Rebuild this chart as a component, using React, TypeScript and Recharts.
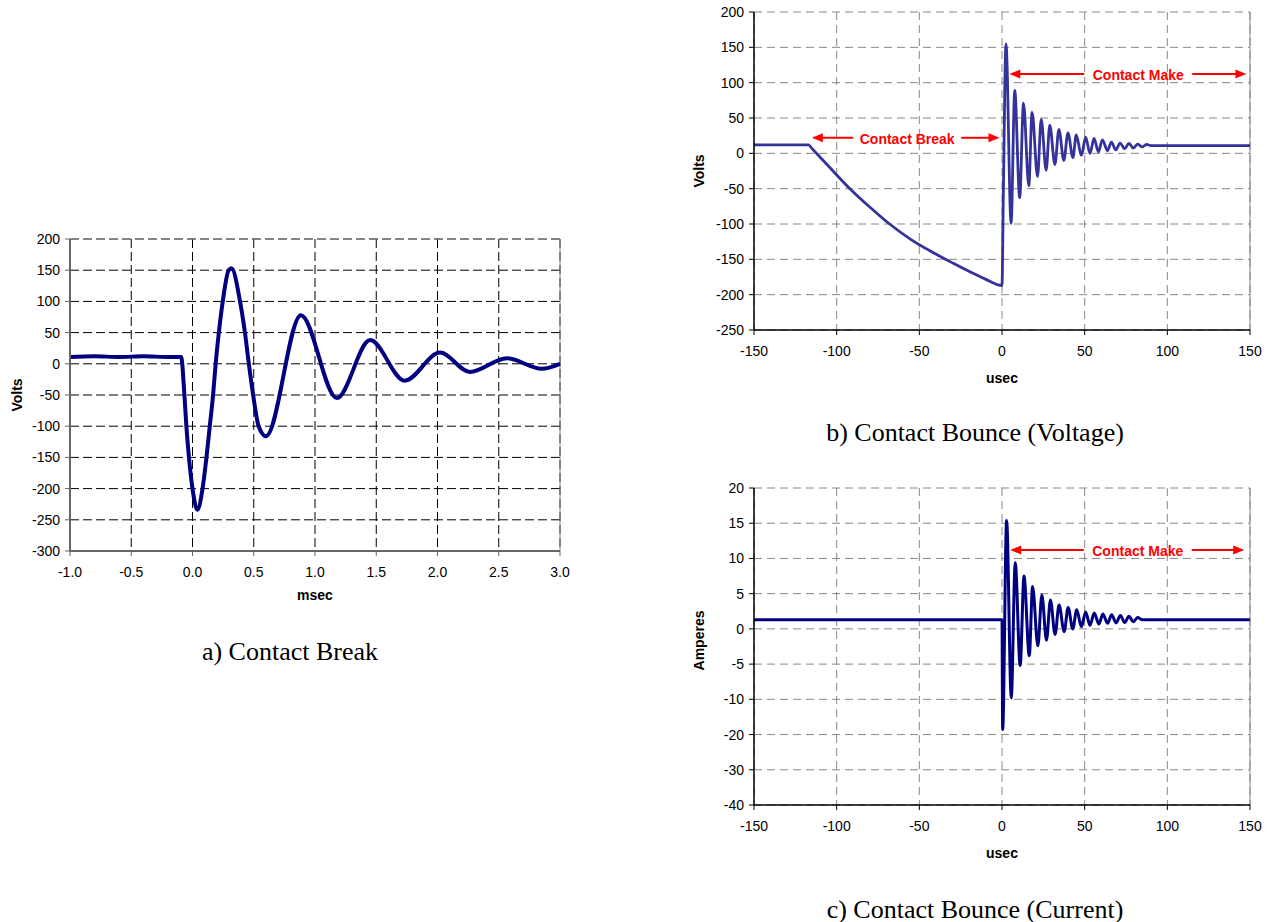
import React from 'react';
import { LineChart, Line, XAxis, YAxis, CartesianGrid, ReferenceLine } from 'recharts';

// a) contact break, msec / volts
const breakMsec = [
  -1.0, -0.8, -0.6, -0.4, -0.2, -0.093, -0.066, -0.05, -0.029, 0.0, 0.04, 0.082, 0.114, 0.141,
  0.168, 0.189, 0.215, 0.247, 0.295, 0.318, 0.388, 0.428, 0.46, 0.495, 0.54, 0.6, 0.885, 1.178,
  1.45, 1.732, 2.02, 2.265, 2.566, 2.85, 3.0,
];
const breakVolts = [
  11, 12, 11, 12, 11, 11, -50, -100, -150, -200, -234, -200, -150, -100,
  -50, 0, 50, 100, 150, 153, 100, 50, 0, -50, -100, -116, 78, -55,
  38, -27, 18, -13, 9, -8, 0,
];
const breakXTicks = [-1, -0.5, 0, 0.5, 1, 1.5, 2, 2.5, 3];
const breakYTicks = [-300, -250, -200, -150, -100, -50, 0, 50, 100, 150, 200];

// b) contact bounce voltage, usec / volts
const bounceUsec = [
  -150, -135, -117, -115, -105, -92, -80, -68, -55, -42, -30, -20, -10, 0, 0.8, 2.4, 5.5, 7.7,
  10.7, 13.0, 16.2, 18.2, 21.5, 23.7, 26.7, 28.9, 32.0, 34.4, 37.4, 39.9, 42.9, 44.9, 48.0, 50.6,
  53.2, 55.7, 58.3, 60.7, 63.8, 66.2, 68.8, 71.5, 74.1, 76.8, 79.4, 82.1, 84.7, 87.4, 90, 110,
  130, 150,
];
const bounceVolts = [
  12, 12, 12, 7, -18, -50, -76, -100, -122, -140, -155, -167, -178, -187, -60, 155, -99, 89,
  -63, 71, -46, 58, -33, 48, -24, 40, -16, 34, -10, 29, -6, 26, -3, 23,
  0, 21, 2, 19, 4, 16, 5, 14.5, 6.5, 14, 7.5, 13, 9, 12.5, 11, 11,
  11, 11,
];
const bounceXTicks = [-150, -100, -50, 0, 50, 100, 150];
const bounceVoltTicks = [-250, -200, -150, -100, -50, 0, 50, 100, 150, 200];

// c) contact bounce current, usec / amperes (axis labels are uneven below -10)
const currentUsec = [
  -150, -120, -90, -60, -30, -10, 0, 0.4, 2.8, 5.6, 8.0, 11.0, 13.3, 16.5, 18.5, 21.7, 24.1,
  26.9, 29.3, 32.1, 34.5, 37.6, 40.0, 42.8, 45.2, 48.0, 50.6, 53.2, 55.8, 58.6, 61.0, 63.9, 66.3,
  69.0, 71.6, 74.2, 76.8, 79.4, 82, 85, 90, 110, 130, 150,
];
const currentAmps = [
  1.3, 1.3, 1.3, 1.3, 1.3, 1.3, 1.3, -14.3, 15.4, -9.8, 9.4, -5.2, 7.5, -3.8, 6.0, -2.4, 4.8,
  -1.6, 4.1, -0.8, 3.4, -0.4, 3.05, 0.0, 2.7, 0.3, 2.4, 0.5, 2.25, 0.7, 2.1, 0.8, 2.0,
  0.85, 1.9, 0.9, 1.8, 1.0, 1.6, 1.3, 1.3, 1.3, 1.3, 1.3,
];
const ampTicks = [-25, -20, -15, -10, -5, 0, 5, 10, 15, 20];
const ampTickLabels = ['-40', '-30', '-20', '-10', '-5', '0', '5', '10', '15', '20'];

const breakData = breakMsec.map((t, i) => ({ t, v: breakVolts[i] }));
const bounceData = bounceUsec.map((t, i) => ({ t, v: bounceVolts[i] }));
const currentData = currentUsec.map((t, i) => ({ t, v: currentAmps[i] }));

const SANS = '"Liberation Sans", Arial, sans-serif';
const SERIF = '"Liberation Serif", "Times New Roman", serif';
const RED = '#ff0000';
const tickStyle = { fill: '#000', fontSize: 14, fontFamily: SANS };

function YTitle(props: any) {
  const { viewBox, text, dx, shift = 0 } = props;
  const cx = viewBox.x + dx;
  const cy = viewBox.y + viewBox.height / 2 + shift;
  return (
    <text x={cx} y={cy} transform={`rotate(-90 ${cx} ${cy})`} textAnchor="middle"
      dominantBaseline="central" fontFamily={SANS} fontWeight="bold" fontSize={14} fill="#000">
      {text}
    </text>
  );
}

function XTitle(props: any) {
  const { viewBox, text, dy } = props;
  return (
    <text x={viewBox.x + viewBox.width / 2} y={viewBox.y + dy} textAnchor="middle"
      dominantBaseline="central" fontFamily={SANS} fontWeight="bold" fontSize={14} fill="#000">
      {text}
    </text>
  );
}

function RedArrow(props: any) {
  const { x1, x2, y1, text, at } = props;
  const left = Math.min(x1, x2);
  const right = Math.max(x1, x2);
  const cx = left + (right - left) * at;
  const gap = 54;
  return (
    <g>
      <line x1={left + 8} y1={y1} x2={cx - gap} y2={y1} stroke={RED} strokeWidth={2} />
      <line x1={cx + gap} y1={y1} x2={right - 8} y2={y1} stroke={RED} strokeWidth={2} />
      <polygon points={`${left},${y1} ${left + 11},${y1 - 4.5} ${left + 11},${y1 + 4.5}`} fill={RED} />
      <polygon points={`${right},${y1} ${right - 11},${y1 - 4.5} ${right - 11},${y1 + 4.5}`} fill={RED} />
      <text x={cx} y={y1 + 1} textAnchor="middle" dominantBaseline="central" fill={RED}
        fontFamily={SANS} fontWeight="bold" fontSize={14}>
        {text}
      </text>
    </g>
  );
}

const Caption = ({ left, top, children }: any) => (
  <div style={{ position: 'absolute', left: left - 200, top, width: 400, textAlign: 'center',
    fontFamily: SERIF, fontSize: 26, lineHeight: '26px', color: '#000' }}>
    {children}
  </div>
);

export default function App() {
  return (
    <div style={{ position: 'absolute', left: 0, top: 0, width: 1274, height: 922, background: '#fff' }}>
      {/* a) Contact Break */}
      <div style={{ position: 'absolute', left: 0, top: 229 }}>
        <LineChart width={580} height={382} data={breakData} margin={{ top: 10, right: 20, bottom: 0, left: 0 }}>
          <CartesianGrid stroke="#000" strokeDasharray="9 4" />
          <XAxis dataKey="t" type="number" domain={[-1, 3]} ticks={breakXTicks} interval={0}
            tickFormatter={(v: number) => v.toFixed(1)} height={60} tickSize={5} tickMargin={11}
            tick={tickStyle} axisLine={{ stroke: '#666', strokeWidth: 2 }} tickLine={{ stroke: '#666' }}
            label={(p: any) => <XTitle {...p} text="msec" dy={44} />} />
          <YAxis type="number" domain={[-300, 200]} ticks={breakYTicks} interval={0} width={70}
            tickSize={5} tickMargin={5} tick={tickStyle}
            axisLine={{ stroke: '#666', strokeWidth: 2 }} tickLine={{ stroke: '#666' }}
            label={(p: any) => <YTitle {...p} text="Volts" dx={17} />} />
          <ReferenceLine y={200} stroke="#888" strokeDasharray="9 4" />
          <ReferenceLine x={3} stroke="#888" />
          <Line type="monotone" dataKey="v" stroke="#000080" strokeWidth={4} dot={false}
            activeDot={false} isAnimationActive={false} />
        </LineChart>
      </div>
      <Caption left={290} top={639}>a) Contact Break</Caption>

      {/* b) Contact Bounce (Voltage) */}
      <div style={{ position: 'absolute', left: 690, top: 2 }}>
        <LineChart width={580} height={388} data={bounceData} margin={{ top: 10, right: 20, bottom: 0, left: 0 }}>
          <CartesianGrid stroke="#888" strokeDasharray="8 5" />
          <XAxis dataKey="t" type="number" domain={[-150, 150]} ticks={bounceXTicks} interval={0}
            height={60} tickSize={5} tickMargin={11} tick={tickStyle}
            axisLine={{ stroke: '#000', strokeWidth: 1.5 }} tickLine={{ stroke: '#000' }}
            label={(p: any) => <XTitle {...p} text="usec" dy={48} />} />
          <YAxis type="number" domain={[-250, 200]} ticks={bounceVoltTicks} interval={0} width={64}
            tickSize={5} tickMargin={5} tick={tickStyle}
            axisLine={{ stroke: '#000', strokeWidth: 1.5 }} tickLine={{ stroke: '#000' }}
            label={(p: any) => <YTitle {...p} text="Volts" dx={8.5} />} />
          <ReferenceLine x={150} stroke="#888" />
          <Line type="monotone" dataKey="v" stroke="#333399" strokeWidth={2.8} dot={false}
            activeDot={false} isAnimationActive={false} />
          <ReferenceLine segment={[{ x: -115, y: 22 }, { x: -1.5, y: 22 }]}
            shape={(p: any) => <RedArrow {...p} text="Contact Break" at={0.508} />} />
          <ReferenceLine segment={[{ x: 4.4, y: 112.3 }, { x: 147.8, y: 112.3 }]}
            shape={(p: any) => <RedArrow {...p} text="Contact Make" at={0.544} />} />
        </LineChart>
      </div>
      <Caption left={975} top={420}>b) Contact Bounce (Voltage)</Caption>

      {/* c) Contact Bounce (Current) */}
      <div style={{ position: 'absolute', left: 690, top: 478 }}>
        <LineChart width={580} height={387} data={currentData} margin={{ top: 10, right: 20, bottom: 0, left: 0 }}>
          <CartesianGrid stroke="#888" strokeDasharray="8 5" />
          <XAxis dataKey="t" type="number" domain={[-150, 150]} ticks={bounceXTicks} interval={0}
            height={60} tickSize={5} tickMargin={11} tick={tickStyle}
            axisLine={{ stroke: '#000', strokeWidth: 1.5 }} tickLine={{ stroke: '#000' }}
            label={(p: any) => <XTitle {...p} text="usec" dy={48} />} />
          <YAxis type="number" domain={[-25, 20]} ticks={ampTicks} interval={0} width={64}
            tickFormatter={(v: number) => ampTickLabels[ampTicks.indexOf(v)]}
            tickSize={5} tickMargin={5} tick={tickStyle}
            axisLine={{ stroke: '#000', strokeWidth: 1.5 }} tickLine={{ stroke: '#000' }}
            label={(p: any) => <YTitle {...p} text="Amperes" dx={8.5} shift={-6} />} />
          <ReferenceLine x={150} stroke="#888" />
          <Line type="monotone" dataKey="v" stroke="#000080" strokeWidth={3} dot={false}
            activeDot={false} isAnimationActive={false} />
          <ReferenceLine segment={[{ x: 5, y: 11.2 }, { x: 146.5, y: 11.2 }]}
            shape={(p: any) => <RedArrow {...p} text="Contact Make" at={0.545} />} />
        </LineChart>
      </div>
      <Caption left={975} top={897}>c) Contact Bounce (Current)</Caption>
    </div>
  );
}
